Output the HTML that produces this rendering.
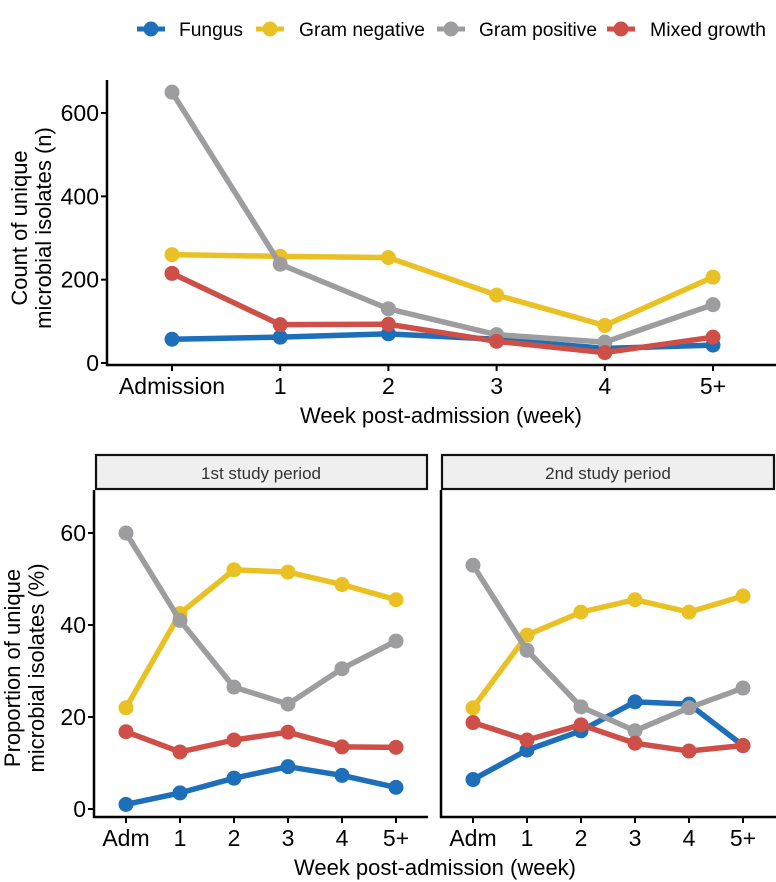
<!DOCTYPE html>
<html><head><meta charset="utf-8"><style>
body{margin:0;background:#fff}
svg{display:block;font-family:"Liberation Sans",Arial,sans-serif}
</style></head><body>
<svg id="chart" width="776" height="882" viewBox="0 0 776 882"></svg>
<script>
const series = ["Fungus","Gram negative","Gram positive","Mixed growth"];
const colors = ["#1c6fb8","#e9c125","#9d9d9f","#cd4f47"];
const topCats = ["Admission","1","2","3","4","5+"];
const botCats = ["Adm","1","2","3","4","5+"];
const topFungus = [57,62,70,57,35,43];
const topGramNeg = [260,256,253,163,90,206];
const topGramPos = [650,237,130,68,50,140];
const topMixed = [215,92,93,52,25,62];
const p1Fungus = [1,3.5,6.7,9.2,7.3,4.7];
const p1GramNeg = [22,42.5,52,51.5,48.8,45.5];
const p1GramPos = [60,41,26.5,22.8,30.5,36.5];
const p1Mixed = [16.8,12.4,15,16.7,13.5,13.4];
const p2Fungus = [6.4,12.8,17,23.3,22.8,13.8];
const p2GramNeg = [22,37.8,42.8,45.5,42.8,46.3];
const p2GramPos = [53,34.5,22.2,17,22,26.3];
const p2Mixed = [18.8,15,18.3,14.3,12.6,13.8];
const topTicks = [0,200,400,600];
const botTicks = [0,20,40,60];
const panelTitles = ["1st study period","2nd study period"];

const svg = document.getElementById('chart');
const NS = "http://www.w3.org/2000/svg";
function mk(tag, attrs, parent){
  const e = document.createElementNS(NS, tag);
  for (const k in attrs) e.setAttribute(k, attrs[k]);
  (parent||svg).appendChild(e);
  return e;
}
function txt(s, attrs){ const t = mk('text', attrs); t.textContent = s; return t; }

// legend
const legKeyX = [137,256,437,607];
const legTextX = [179,299,479,650];
const legTextW = [64,126,118,116];
series.forEach((s,i)=>{
  const g = mk('g',{});
  
  
  mk('line',{x1:legKeyX[i],y1:29,x2:legKeyX[i]+28,y2:29,stroke:colors[i],'stroke-width':5},g);
  mk('circle',{cx:legKeyX[i]+14,cy:29,r:7.5,fill:colors[i]},g);
  const t = mk('text',{x:legTextX[i],y:36,'font-size':19,fill:'#000',textLength:legTextW[i],lengthAdjust:'spacingAndGlyphs'},g);
  t.textContent = s;
});

function panel(opts){
  const {x0,x1,yTop,yAxis,y0px,yMaxV,yMaxPx,cats,xs,data,ticks,drawY,name} = opts;
  const ys = v => y0px - (v/yMaxV)*(y0px - yMaxPx);
  const g = mk('g',{});
  
  
  mk('line',{x1:x0,y1:yTop,x2:x0,y2:yAxis+1,stroke:'#000','stroke-width':2.5},g);
  mk('line',{x1:x0-1,y1:yAxis,x2:x1,y2:yAxis,stroke:'#000','stroke-width':2.5},g);
  if (drawY) ticks.forEach(t=>{
    mk('line',{x1:x0-6,y1:ys(t),x2:x0,y2:ys(t),stroke:'#000','stroke-width':2},g);
    const l = mk('text',{x:x0-8,y:ys(t)+8,'text-anchor':'end','font-size':23},g);
    l.textContent = t;
  });
  cats.forEach((c,i)=>{
    const x = xs(i);
    mk('line',{x1:x,y1:yAxis,x2:x,y2:yAxis+6,stroke:'#000','stroke-width':2},g);
    const l = mk('text',{x:x,y:yAxis+29,'text-anchor':'middle','font-size':23},g);
    l.textContent = c;
  });
  data.forEach((arr,si)=>{
    const s = mk('g',{},g);
    
    
    const pts = arr.map((v,i)=>xs(i)+','+ys(v)).join(' ');
    mk('polyline',{points:pts,fill:'none',stroke:colors[si],'stroke-width':5.5,'stroke-linejoin':'round'},s);
    arr.forEach((v,i)=>{
      const c = mk('circle',{cx:xs(i),cy:ys(v),r:7.5,fill:colors[si]},s);
      
      
    });
  });
}

panel({x0:107,x1:776,yTop:80,yAxis:365,y0px:363,yMaxV:600,yMaxPx:113,cats:topCats,
  xs:i=>172+i*108.2,data:[topFungus,topGramNeg,topGramPos,topMixed],ticks:topTicks,drawY:true,name:'top-count-chart'});
txt('Count of unique',{x:0,y:0,transform:'translate(27,228) rotate(-90)','text-anchor':'middle','font-size':22,});
txt('microbial isolates (n)',{x:0,y:0,transform:'translate(51,228) rotate(-90)','text-anchor':'middle','font-size':22,});
txt('Week post-admission (week)',{x:441,y:423,'text-anchor':'middle','font-size':22,});

const panels = [{x0:94,x1:428,sx:126,data:[p1Fungus,p1GramNeg,p1GramPos,p1Mixed]},
                {x0:441,x1:776,sx:473,data:[p2Fungus,p2GramNeg,p2GramPos,p2Mixed]}];
panels.forEach((p,pi)=>{
  const r = mk('rect',{x:(pi?442:96),y:455,width:(pi?332:331),height:34,fill:'#efefef',stroke:'#111','stroke-width':2.2});
  
  
  txt(panelTitles[pi],{x:(pi?608:261),y:479,'text-anchor':'middle','font-size':17,fill:'#333',});
  panel({x0:p.x0,x1:p.x1,yTop:490,yAxis:817,y0px:809,yMaxV:60,yMaxPx:533,cats:botCats,
    xs:i=>p.sx+i*54,data:p.data,ticks:botTicks,drawY:pi===0,name:'bottom-panel-'+(pi+1)});
});
txt('Proportion of unique',{x:0,y:0,transform:'translate(20,668) rotate(-90)','text-anchor':'middle','font-size':22,});
txt('microbial isolates (%)',{x:0,y:0,transform:'translate(44,668) rotate(-90)','text-anchor':'middle','font-size':22,});
txt('Week post-admission (week)',{x:435,y:875,'text-anchor':'middle','font-size':22,});
</script>
</body></html>
